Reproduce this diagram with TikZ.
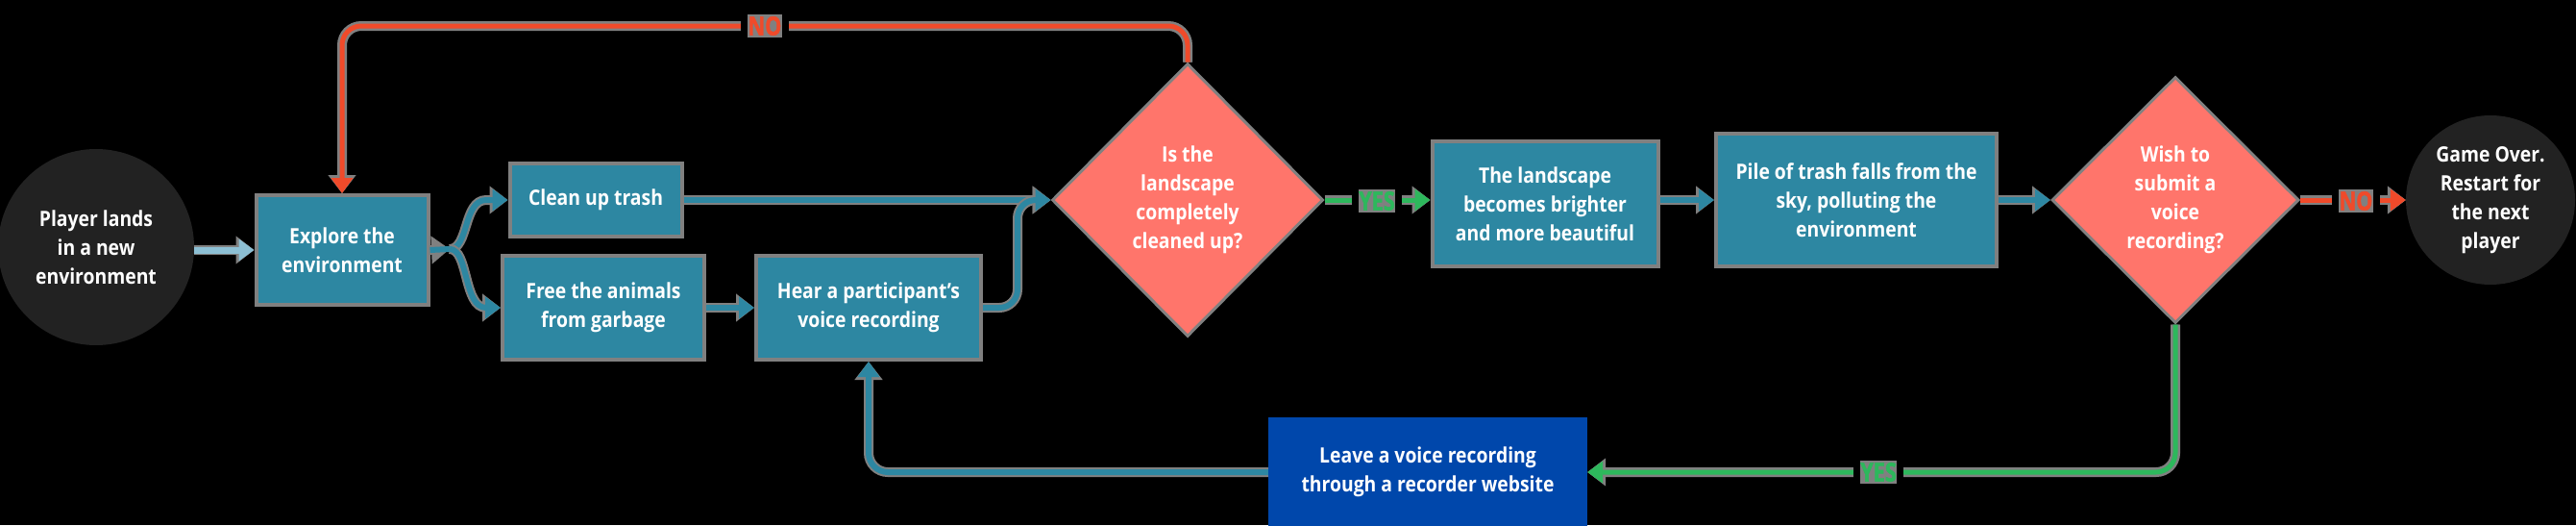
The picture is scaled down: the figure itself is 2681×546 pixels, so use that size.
\documentclass[tikz,border=0pt]{standalone}
\usepackage{fontspec}
\setmainfont{Open Sans}[FakeStretch=0.88]
\newfontfamily\labfont{Open Sans}[FakeStretch=0.8, FakeBold=1.6]
\usetikzlibrary{shapes.geometric,arrows.meta,calc}
\definecolor{cTeal}{HTML}{2D87A2}
\definecolor{cSalmon}{HTML}{FF756B}
\definecolor{cRed}{HTML}{F04A2A}
\definecolor{cGreen}{HTML}{2DB85C}
\definecolor{cNavy}{HTML}{0047AB}
\definecolor{cDark}{HTML}{222222}
\definecolor{cHalo}{HTML}{808080}
\definecolor{cLight}{HTML}{8CBFD4}
\tikzset{
  txt/.style={text=white, font=\fontsize{22}{30}\selectfont\bfseries, align=center},
  box/.style={txt, rectangle, fill=cTeal, draw=cHalo, line width=4pt, inner sep=0pt},
  dec/.style={txt, diamond, fill=cSalmon, draw=cHalo, line width=3pt, inner sep=0pt},
  term/.style={txt, circle, fill=cDark, inner sep=0pt},
  lab/.style={font=\labfont\fontsize{27}{27}\selectfont\bfseries, fill=cHalo, draw=black, line width=7pt, inner xsep=4pt, inner ysep=5.5pt},
  conn/.style={draw=#1, line width=6pt, line join=round, -{Triangle[length=16pt,width=22pt]},
    preaction={draw=cHalo, line width=10pt, -{Triangle[length=19pt,width=28pt]}}},
  thin/.style={conn=#1, line width=5pt, preaction={draw=cHalo, line width=9pt}},
}
\begin{document}
\begin{tikzpicture}[x=1pt,y=-1pt]
\useasboundingbox (0,0) rectangle (2681,546);
\fill[black] (0,0) rectangle (2681,546);

% nodes
\node[term, minimum size=204pt] (p1) at (100,257) {Player lands\\in a new\\environment};
\node[box, minimum width=179pt, minimum height=114pt] (explore) at (356,260) {Explore the\\environment};
\node[box, minimum width=179pt, minimum height=76pt] (clean) at (620,208) {Clean up trash};
\node[box, minimum width=210pt, minimum height=108pt] (free) at (628,320) {Free the animals\\from garbage};
\node[box, minimum width=234pt, minimum height=108pt] (hear) at (904,320) {Hear a participant’s\\voice recording};
\node[dec, minimum width=282pt, minimum height=284pt] (d1) at (1236,208) {Is the\\landscape\\completely\\cleaned up?};
\node[box, minimum width=235pt, minimum height=130pt] (land) at (1608,212) {The landscape\\becomes brighter\\and more beautiful};
\node[box, minimum width=292pt, minimum height=138pt] (pile) at (1932,208) {Pile of trash falls from the\\sky, polluting the\\environment};
\node[dec, minimum width=257pt, minimum height=256pt] (d2) at (2264,208) {Wish to\\submit a\\voice\\recording?};
\node[term, minimum size=176pt] (over) at (2592,208) {Game Over.\\Restart for\\the next\\player};
\node[txt, rectangle, fill=cNavy, minimum width=332pt, minimum height=114pt, inner sep=0pt] (leave) at (1486,491) {Leave a voice recording\\through a recorder website};

% connectors
\draw[conn=cLight, line width=7pt] (explore.west -| p1.east) -- (explore.west);
\coordinate (fk) at (468,259);
\draw[conn=cTeal, -] (explore.east) -- (fk);
\draw[conn=cTeal] (fk) .. controls (488,259) and (482,208) .. (506,208) -- (clean.west);
\draw[conn=cTeal] (fk) .. controls (488,259) and (482,320) .. (506,320) -- (free.west);
\draw[conn=cTeal] (clean.east) -- (d1.west);
\draw[conn=cTeal] (free.east) -- (hear.west);
\coordinate (hv) at (1059,208);
\draw[conn=cTeal, rounded corners=19pt] (hear.east) -| (hv) -- (d1.west);

\coordinate (noY) at (0,27);
\draw[thin=cRed, rounded corners=20pt] (d1.north) |- (noY -| explore.north) -- (explore.north);
\node[lab, text=cRed] (noA) at (796,27) {NO};

\draw[thin=cGreen] (d1.east) -- (d1.east -| land.west);
\node[lab, text=cGreen] (yesA) at (1433,209) {YES};

\draw[conn=cTeal] (pile.west -| land.east) -- (pile.west);
\draw[conn=cTeal] (pile.east) -- (d2.west);

\draw[thin=cRed] (d2.east) -- (over.west);
\node[lab, text=cRed] (noB) at (2452,209) {NO};

\draw[thin=cGreen, rounded corners=20pt] (d2.south) |- (leave.east);
\node[lab, text=cGreen] (yesB) at (1955,491) {YES};

\draw[conn=cTeal, rounded corners=20pt] (leave.west) -| (hear.south);
\end{tikzpicture}
\end{document}
